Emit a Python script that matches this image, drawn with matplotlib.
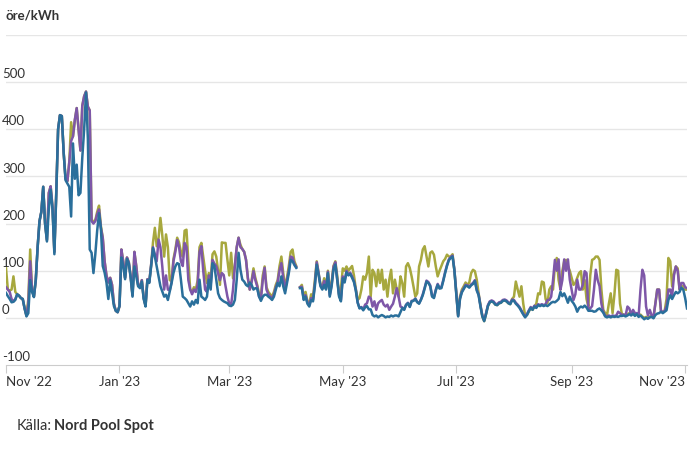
import matplotlib
matplotlib.use('Agg')
import matplotlib.pyplot as plt
import numpy as np
import pandas as pd

nan = np.nan

# dagliga spotpriser (öre/kWh), 1 nov 2022 - 2 nov 2023
blue = [
    # nov-dec 2022
    53, 46, 40, 33, 34, 38, 50, 47, 42, 40, 20, 3, 10, 80, 55, 44, 80, 150, 205, 225,
    278, 200, 162, 230, 272, 230, 135, 260, 400, 430, 428, 350, 292, 285, 278, 215, 370, 295, 325, 260,
    265, 340, 400, 478, 380, 145, 138, 95, 135, 185, 222, 190, 110, 96, 75, 40, 80, 52, 25, 15, 12,
    # jan-feb 2023
    25, 128, 110, 82, 125, 115, 85, 45, 109, 88, 67, 63, 77, 40, 24, 80, 74, 109, 148, 130,
    109, 88, 67, 56, 45, 49, 38, 56, 74, 95, 109, 116, 114, 81, 45, 42, 38, 31, 24, 35,
    28, 38, 31, 81, 45, 42, 38, 45, 81, 60, 116, 110, 81, 52, 42, 38,
    # mar-apr
    35, 33, 31, 26, 25, 28, 38, 81, 138, 102, 81, 77, 70, 67, 75, 70, 60, 63, 62, 45,
    36, 45, 49, 49, 45, 42, 38, 45, 60, 74, 67, 88, 67, 52, 74, 95, 123, 120, 112, 106,
    nan,
    63, 63, 38, 45, 30, 24, 38, 35, 67, 113, 91, 67, 60, 70, 60, 95, 45, 67, 102, 113, 81, 45, 35, 84,
    # maj-jun
    75, 97, 90, 93, 85, 76, 58, 32, 20, 22, 16, 22, 25, 18, 18, 6, 3, 5, 1, 4,
    6, 4, 1, 3, 2, 5, 3, 5, 5, 3, 12, 21, 17, 27, 31, 23, 35, 36, 40, 33,
    30, 38, 48, 62, 77, 74, 67, 45, 42, 58, 70, 62, 63, 78, 95, 110, 122, 127, 130, 100,
    50, 3,
    # jul-aug
    40, 54, 61, 68, 67, 64, 69, 72, 78, 58, 48, 24, 3, -7, 8, 25, 33, 35, 33, 28,
    27, 31, 32, 36, 37, 35, 31, 29, 37, 36, 30, 26, 21, 14, 7, 1, 6, 14, 21, 17,
    24, 21, 27, 25, 27, 25, 27, 25, 28, 32, 34, 33, 36, 40, 55, 46, 52, 43, 32,
    # sep-nov
    45, 36, 31, 24, 13, 21, 24, 22, 26, 22, 15, 15, 15, 13, 14, 18, 20, 16, 11, 3,
    1, 3, 1, 3, 2, 3, 2, 4, 4, 5, 3, 5, 8, 5, 9, 4, 8, 2, 5, 1,
    -3, 0, -2, 1, 2, -1, 6, 9, 10, 13, 10, 13, 16, 38, 48, 40, 48, 55, 52, 55,
    64, 60, 42, 20,
]

purple = [
    65, 60, 55, 40, 35, 40, 50, 47, 42, 40, 20, 5, 30, 120, 60, 45, 80, 150, 205, 225,
    278, 200, 165, 265, 279, 235, 140, 265, 400, 430, 428, 350, 295, 290, 330, 375, 385, 420, 445, 400,
    355, 450, 470, 480, 448, 440, 205, 200, 205, 220, 230, 190, 170, 120, 90, 75, 85, 70, 30, 15, 12,
    25, 145, 120, 85, 128, 118, 88, 48, 140, 110, 70, 65, 80, 42, 26, 82, 76, 112, 150, 135,
    120, 166, 150, 109, 60, 90, 60, 58, 76, 120, 140, 165, 150, 120, 110, 159, 150, 80, 60, 50,
    60, 55, 70, 140, 152, 100, 60, 55, 90, 70, 123, 115, 110, 95, 80, 95,
    91, 67, 45, 30, 28, 60, 110, 150, 170, 150, 146, 140, 123, 84, 60, 75, 99, 80, 67, 45,
    40, 80, 106, 60, 50, 45, 42, 50, 65, 76, 100, 116, 85, 60, 80, 100, 130, 128, 115, 108,
    nan,
    65, 66, 40, 48, 33, 27, 42, 38, 72, 118, 95, 70, 63, 78, 63, 98, 48, 70, 108, 118, 84, 48, 38, 88,
    78, 100, 92, 96, 88, 78, 60, 33, 21, 23, 18, 28, 31, 45, 42, 24, 35, 17, 31, 35,
    38, 28, 24, 28, 17, 24, 30, 45, 63, 45, 24, 22, 18, 28, 32, 24, 36, 37, 41, 34,
    31, 39, 50, 64, 79, 76, 69, 47, 44, 60, 72, 64, 65, 80, 97, 112, 124, 129, 132, 102,
    52, 4,
    42, 56, 63, 70, 69, 66, 71, 74, 80, 60, 50, 26, 5, -5, 10, 27, 35, 37, 35, 30,
    29, 33, 34, 38, 39, 37, 33, 31, 39, 38, 32, 28, 23, 16, 9, 3, 8, 16, 23, 19,
    26, 23, 29, 27, 29, 27, 29, 38, 38, 45, 80, 123, 100, 124, 60, 80, 124, 100, 124,
    81, 60, 38, 50, 81, 60, 60, 70, 99, 95, 17, 20, 25, 60, 102, 80, 67, 30, 13, 5,
    3, 5, 3, 5, 4, 5, 13, 10, 6, 7, 5, 24, 20, 7, 17, 10, 10, 4, 60, 102,
    90, 24, 5, 17, 5, 2, 30, 60, 60, 15, 12, 15, 25, 60, 60, 45, 90, 109, 100, 60,
    74, 74, 65, 63,
]

olive = [
    105, 60, 58, 60, 88, 55, 50, 47, 42, 40, 20, 5, 40, 145, 60, 45, 80, 150, 205, 225,
    278, 200, 165, 265, 279, 235, 140, 265, 400, 430, 428, 350, 295, 290, 330, 415, 385, 420, 445, 400,
    355, 450, 470, 480, 448, 440, 207, 205, 207, 225, 238, 195, 170, 120, 90, 75, 85, 70, 30, 15, 12,
    25, 145, 120, 85, 128, 118, 88, 48, 140, 110, 70, 65, 80, 42, 26, 82, 76, 112, 160, 191,
    152, 170, 212, 175, 130, 177, 150, 80, 78, 125, 145, 170, 160, 140, 130, 185, 187, 120, 60, 55,
    65, 60, 80, 150, 159, 130, 100, 74, 95, 80, 135, 141, 130, 100, 70, 160,
    159, 159, 123, 90, 138, 84, 110, 150, 170, 155, 146, 140, 123, 84, 60, 80, 105, 85, 70, 50,
    45, 90, 109, 65, 55, 50, 45, 55, 70, 80, 110, 130, 95, 65, 85, 110, 140, 145, 120, 110,
    nan,
    65, 70, 45, 55, 35, 30, 50, 45, 80, 120, 95, 70, 65, 84, 65, 100, 60, 75, 110, 120, 90, 50, 62, 105,
    100, 109, 100, 105, 110, 90, 62, 38, 42, 60, 88, 81, 95, 130, 45, 102, 95, 67, 102, 74,
    102, 60, 81, 45, 81, 102, 52, 81, 60, 45, 88, 74, 45, 109, 116, 106, 88, 67, 45, 52,
    109, 123, 145, 152, 130, 109, 138, 141, 134, 109, 88, 100, 110, 120, 125, 134, 130, 130, 135, 100,
    55, 5,
    45, 60, 67, 75, 70, 75, 95, 102, 99, 81, 52, 28, 3, -7, 8, 25, 33, 35, 33, 28,
    27, 31, 32, 36, 37, 35, 31, 29, 40, 45, 77, 60, 45, 67, 30, 5, 6, 14, 21, 17,
    24, 30, 52, 50, 77, 75, 40, 31, 60, 67, 60, 110, 127, 80, 60, 100, 120, 123, 110,
    100, 85, 70, 74, 85, 95, 99, 60, 80, 40, 24, 90, 123, 125, 130, 130, 123, 60, 17, 10,
    5, 30, 52, 10, 50, 102, 100, 30, 8, 7, 5, 8, 10, 7, 10, 6, 10, 4, 7, 3,
    0, 2, 0, 3, 4, 1, 30, 60, 60, 15, 12, 15, 40, 127, 120, 67, 95, 109, 105, 60,
    67, 67, 60, 60,
]

n = min(len(blue), len(purple), len(olive))
dates = pd.date_range('2022-11-01', periods=n, freq='D')

tick_dates = pd.to_datetime(['2022-11-01', '2023-01-01', '2023-03-01', '2023-05-01',
                             '2023-07-01', '2023-09-01', '2023-11-01'])
tick_labels = ["Nov '22", "Jan '23", "Mar '23", "May '23", "Jul '23", "Sep '23", "Nov '23"]
y_ticks = [-100, 0, 100, 200, 300, 400, 500]

plt.rcParams['font.family'] = ['Lato', 'DejaVu Sans']

fig = plt.figure(figsize=(6.92, 4.51), dpi=100)
ax = fig.add_axes([6 / 692, 1 - 365 / 451, 681 / 692, 330 / 451])

ax.plot(dates, olive[:n], color='#a7a83e', lw=1.8, solid_joinstyle='round')
ax.plot(dates, purple[:n], color='#7e57a8', lw=1.8, solid_joinstyle='round')
ax.plot(dates, blue[:n], color='#2a6f9b', lw=1.8, solid_joinstyle='round')

ax.set_ylim(-100, 600)
ax.set_xlim(dates[0], dates[-1])

for v in range(0, 601, 100):
    ax.axhline(v, color='#e6e6e6', lw=1, zorder=0)

for s in ['top', 'right', 'left']:
    ax.spines[s].set_visible(False)
ax.spines['bottom'].set_color('#cccccc')
ax.set_yticks([])

ax.set_xticks(tick_dates)
ax.set_xticklabels(tick_labels)
ax.tick_params(axis='x', length=6, color='#cccccc', labelsize=9.5, labelcolor='#333333', pad=2)
labs = ax.get_xticklabels()
labs[0].set_ha('left')
labs[-1].set_ha('right')

for v in y_ticks:
    ax.text(-4 / 681, v + 4, str(v), transform=ax.get_yaxis_transform(),
            ha='left', va='bottom', fontsize=9.5, color='#333333')

fig.text(6 / 692, 1 - 16 / 451, 'öre/kWh', fontsize=9.5, fontweight='bold',
         color='#333333', va='center', ha='left')
fig.text(17 / 692, 1 - 426 / 451, 'Källa:', fontsize=10.5, color='#333333', va='center', ha='left')
fig.text(54 / 692, 1 - 426 / 451, 'Nord Pool Spot', fontsize=10.5, fontweight='bold',
         color='#333333', va='center', ha='left')

fig.savefig('out.png', dpi=100)
